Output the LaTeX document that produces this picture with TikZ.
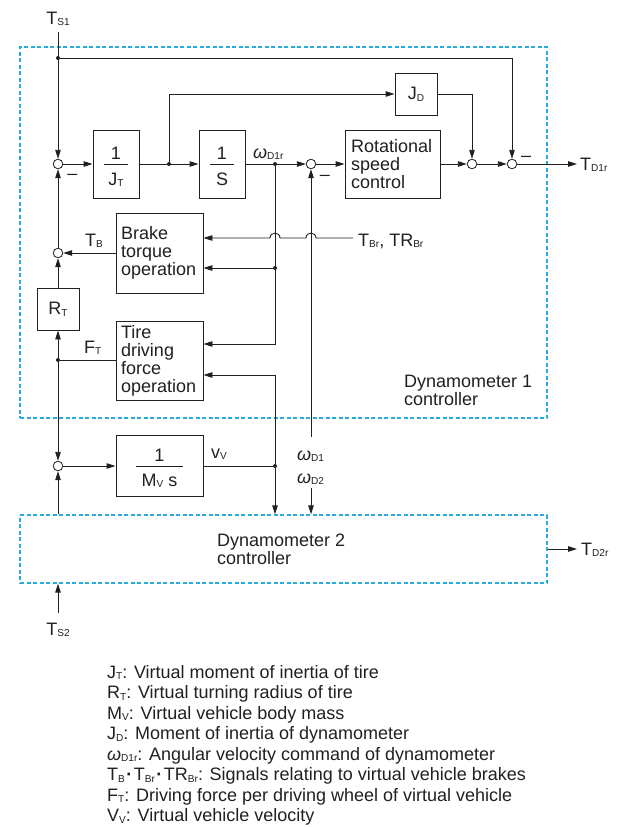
\documentclass[tikz,border=0pt]{standalone}
\usepackage{fontspec}
\setmainfont{Liberation Sans}
\usetikzlibrary{arrows.meta,calc}
\definecolor{wire}{HTML}{231F20}
\definecolor{dyn}{HTML}{29ABE2}
% lowered, reduced index text
\newcommand\lo[1]{\raisebox{-0.11em}{\scalebox{0.56}{#1}}}
\newcommand\om{\textit{ω}}
\newcommand\sep{\hspace{1.5pt}\textbf{·}\hspace{1.5pt}}

\begin{document}
\begin{tikzpicture}[x=1pt,y=-1pt,
  every node/.style={inner sep=0pt, text=wire},
  big/.style={font=\fontsize{18}{18}\selectfont},
  legend/.style={font=\fontsize{18}{20}\selectfont, anchor=base west},
  blk/.style={draw=wire, line width=0.9pt, fill=white, big},
  txtblk/.style={blk, align=left},
  sum/.style={draw=wire, circle, line width=0.8pt, minimum size=9.6pt, fill=white},
  jn/.style={circle, fill=wire, minimum size=4pt},
  sig/.style={draw=wire, line width=0.9pt},
  arr/.style={sig, -{Triangle[length=9pt,width=5.5pt]}},
  ctrl/.style={draw=dyn, line width=1.3pt, dash pattern=on 4pt off 2.5pt},
  lbl/.style={big, anchor=base west},
  clbl/.style={big, anchor=base},
]
\useasboundingbox (0,0) rectangle (622,827);

% controller frames
\node[ctrl, minimum width=527pt, minimum height=371pt] (dyn1) at (283.5,232.5) {};
\node[ctrl, minimum width=527pt, minimum height=68pt] (dyn2) at (283.5,549) {};
\node[big, align=left, anchor=north west] (dyn1lbl) at (404,375) {Dynamometer 1\\controller};
\node[big, align=left, anchor=north west] (dyn2lbl) at (217,534) {Dynamometer 2\\controller};

% transfer blocks
\node[blk, minimum width=46pt, minimum height=68pt] (jt) at (116,164) {};
\node[clbl] (jtn) at (116,159) {1};
\node[clbl] (jtd) at (116,185) {J\lo{T}};
\draw[sig] ($(jt.center)+(-12,0)$) -- ($(jt.center)+(12,0)$);

\node[blk, minimum width=46pt, minimum height=68pt] (sb) at (222,164) {};
\node[clbl] (sbn) at (222,159) {1};
\node[clbl] (sbd) at (222,185) {S};
\draw[sig] ($(sb.center)+(-12,0)$) -- ($(sb.center)+(12,0)$);

\node[blk, minimum width=42pt, minimum height=42pt] (jd) at (416,94) {J\lo{D}};
\node[txtblk, minimum width=95pt, minimum height=68pt, text width=83pt] (rsc) at (392.5,164) {Rotational\\speed\\control};
\node[txtblk, minimum width=87pt, minimum height=80pt, text width=77pt] (bto) at (159.5,253) {Brake\\torque\\operation};
\node[blk, minimum width=42pt, minimum height=42pt] (rt) at (58,309) {R\lo{T}};
\node[txtblk, minimum width=87pt, minimum height=79pt, text width=77pt] (tdf) at (159.5,360.5) {Tire\\driving\\force\\operation};

\node[blk, minimum width=87pt, minimum height=61pt] (mv) at (159.5,465.5) {};
\node[clbl] (mvn) at (159.5,461) {1};
\node[clbl] (mvd) at (159.5,486) {M\lo{V} s};
\draw[sig] (136,466) -- (183,466);

% summing points
\node[sum] (s1) at (58,164) {};
\node[sum] (s2) at (311,164) {};
\node[sum] (s3) at (472,164) {};
\node[sum] (s4) at (512,164) {};
\node[sum] (s5) at (58,253) {};
\node[sum] (s6) at (58,466) {};

% branch points
\node[jn] (d0) at (58,58) {};
\node[jn] (d1) at (169,164) {};
\node[jn] (d2) at (275,164) {};
\node[jn] (d3) at (275,268) {};
\node[jn] (d4) at (58,360) {};
\node[jn] (d5) at (275,466) {};

% signal labels
\node[clbl] (ts1) at (58,24) {T\lo{S1}};
\node[clbl] (ts2) at (58,635) {T\lo{S2}};
\node[lbl] (td1r) at (580,170) {T\lo{D1r}};
\node[lbl] (td2r) at (581,555) {T\lo{D2r}};
\node[lbl] (wd1r) at (253,158) {\om\lo{D1r}};
\node[lbl] (tb) at (85,246) {T\lo{B}};
\node[lbl] (ft) at (84,353) {F\lo{T}};
\node[lbl] (tbr) at (358,246) {T\lo{Br}, TR\lo{Br}};
\node[lbl] (vv) at (211,458) {v\lo{V}};
\node[lbl] (wd1) at (297,460) {\om\lo{D1}};
\node[lbl] (wd2) at (297,483) {\om\lo{D2}};
\node[clbl] (m1) at (72.5,179) {–};
\node[clbl] (m2) at (325,180) {–};
\node[clbl] (m4) at (526,161) {–};

% free ends of the external signals
\coordinate (ts1end) at (58,32);
\coordinate (ts2end) at (58,613);
\coordinate (td1end) at (577,164);
\coordinate (td2end) at (577,549);
\coordinate (tbrend) at (353,238);
\coordinate (wd1end) at (311,437);
\coordinate (wd2end) at (311,488);

% connectors
\draw[arr] (ts1end) -- (s1);
\draw[arr] (d0) -| (s4);
\draw[arr] (s1) -- (jt);
\draw[arr] (jt) -- (sb);
\draw[arr] (d1) |- (jd);
\draw[arr] (sb) -- (s2);
\draw[arr] (s2) -- (rsc);
\draw[arr] (rsc) -- (s3);
\draw[arr] (jd) -| (s3);
\draw[arr] (s3) -- (s4);
\draw[arr] (s4) -- (td1end);
\draw[arr] (d2) |- (tdf.east |- 0,344);
\draw[arr] (d3) -- (bto.east |- d3);
\draw[arr] (tbrend) -- (316,238) .. controls (316,231.5) and (306,231.5) .. (306,238)
  -- (280,238) .. controls (280,231.5) and (270,231.5) .. (270,238) -- (bto.east |- tbrend);
\draw[arr] (bto.west |- s5) -- (s5);
\draw[arr] (s5) -- (s1);
\draw[arr] (rt) -- (s5);
\draw[sig] (tdf.west |- d4) -- (d4);
\draw[arr] (d4) -- (rt);
\draw[arr] (d4) -- (s6);
\draw[arr] (dyn2.north -| s6) -- (s6);
\draw[arr] (s6) -- (mv.west |- s6);
\draw[sig] (mv.east |- d5) -- (d5);
\draw[arr] (d5) |- (tdf.east |- 0,375);
\draw[arr] (d5) -- (dyn2.north -| d5);
\draw[arr] (wd1end) -- (s2);
\draw[arr] (wd2end) -- (dyn2.north -| wd2end);
\draw[arr] (dyn2.east |- td2end) -- (td2end);
\draw[arr] (ts2end) -- (dyn2.south -| ts2end);

% legend
\node[legend] (l1) at (107,678) {J\lo{T}: Virtual moment of inertia of tire};
\node[legend] (l2) at (107,698.5) {R\lo{T}: Virtual turning radius of tire};
\node[legend] (l3) at (107,719) {M\lo{V}: Virtual vehicle body mass};
\node[legend] (l4) at (107,739.5) {J\lo{D}: Moment of inertia of dynamometer};
\node[legend] (l5) at (107,760) {\om\lo{D1r}: Angular velocity command of dynamometer};
\node[legend] (l6) at (107,780.5) {T\lo{B}\sep T\lo{Br}\sep TR\lo{Br}: Signals relating to virtual vehicle brakes};
\node[legend] (l7) at (107,801) {F\lo{T}: Driving force per driving wheel of virtual vehicle};
\node[legend] (l8) at (107,821.5) {V\lo{V}: Virtual vehicle velocity};
\end{tikzpicture}
\end{document}
